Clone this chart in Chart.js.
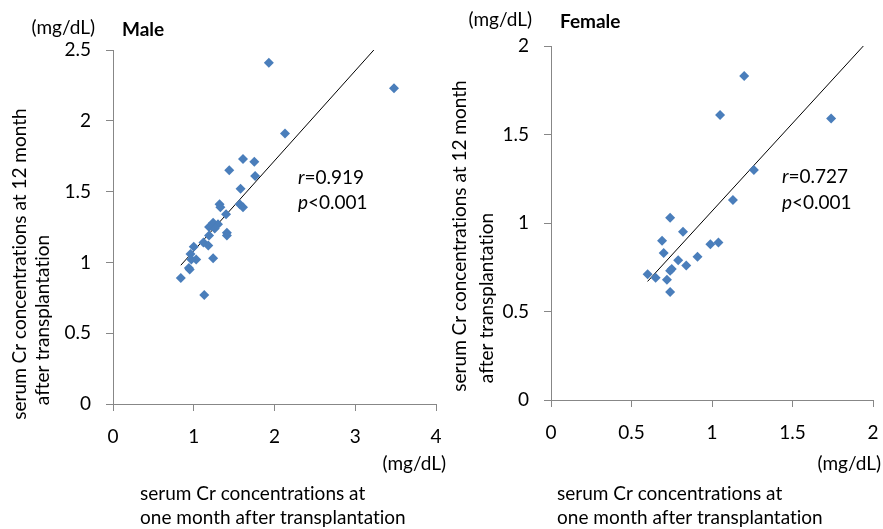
<!DOCTYPE html>
<html>
<head>
<meta charset="utf-8">
<script src="https://cdn.jsdelivr.net/npm/chart.js@4.4.1/dist/chart.umd.min.js"></script>
<style>
  html, body { margin: 0; padding: 0; background: #fff; }
  #page { position: relative; width: 883px; height: 529px; overflow: hidden; }
  .box { position: absolute; top: 0; height: 529px; }
</style>
</head>
<body>
<div id="page">
  <div class="box" style="left:0;width:450px"><canvas id="maleChart"></canvas></div>
  <div class="box" style="left:440px;width:443px"><canvas id="femaleChart"></canvas></div>
</div>
<script>
// Male: serum Cr at 1 month (x) vs 12 months (y)
const maleX = [1.93, 3.48, 2.13, 1.61, 1.75, 1.44, 1.76, 1.58, 1.32, 1.33, 1.57, 1.61, 1.40, 1.24, 1.30, 1.19, 1.26, 1.41, 1.41, 1.19, 1.12, 1.18, 1.00, 0.96, 1.03, 0.97, 1.24, 0.94, 0.95, 0.84, 1.13];
const maleY = [2.41, 2.23, 1.91, 1.73, 1.71, 1.65, 1.61, 1.52, 1.41, 1.39, 1.41, 1.39, 1.34, 1.28, 1.27, 1.25, 1.24, 1.21, 1.19, 1.19, 1.14, 1.12, 1.11, 1.06, 1.02, 1.02, 1.03, 0.96, 0.95, 0.89, 0.77];
const maleTrendX = [0.84, 3.23];
const maleTrendY = [0.98, 2.5];

// Female
const femaleX = [1.20, 1.05, 1.74, 1.26, 1.13, 0.74, 0.82, 0.69, 0.99, 1.04, 0.70, 0.91, 0.79, 0.84, 0.75, 0.74, 0.60, 0.65, 0.72, 0.74];
const femaleY = [1.83, 1.61, 1.59, 1.30, 1.13, 1.03, 0.95, 0.90, 0.88, 0.89, 0.83, 0.81, 0.79, 0.76, 0.74, 0.73, 0.71, 0.69, 0.68, 0.61];
const femaleTrendX = [0.60, 1.94];
const femaleTrendY = [0.67, 2.0];

// Axis ticks
const maleXTicks = [0, 1, 2, 3, 4];
const maleYTicks = [0, 0.5, 1, 1.5, 2, 2.5];
const femaleXTicks = [0, 0.5, 1, 1.5, 2];
const femaleYTicks = [0, 0.5, 1, 1.5, 2];

const FONT = 'Lato, "Liberation Sans", sans-serif';
const AXIS_GRAY = '#878787';
const MARKER_BLUE = '#4a7ebb';

function toPoints(xs, ys) {
    return xs.map((x, i) => ({ x: x, y: ys[i] }));
}

// draws the loose labels around each panel (units, titles, r / p)
const extraText = {
    id: 'extraText',
    afterDraw(chart, args, opts) {
        const ctx = chart.ctx;
        const dx = opts.offsetX || 0;
        ctx.save();
        ctx.fillStyle = '#000';
        ctx.textBaseline = 'middle';
        ctx.textRendering = 'optimizeSpeed';   // no "ti" ligature
        (opts.items || []).forEach(t => {
            ctx.save();
            ctx.font = (t.bold ? 'bold ' : '') + t.size + 'px ' + FONT;
            ctx.translate(t.x - dx, t.y);
            if (t.rotate) ctx.rotate(t.rotate);
            ctx.textAlign = t.align || 'left';
            if (t.parts) {
                // italic letter + normal rest
                let x = 0;
                t.parts.forEach(p => {
                    ctx.font = (p.italic ? 'italic ' : '') + t.size + 'px ' + FONT;
                    ctx.textAlign = 'left';
                    ctx.fillText(p.text, x, 0);
                    x += ctx.measureText(p.text).width;
                });
            } else {
                ctx.fillText(t.text, 0, 0);
            }
            ctx.restore();
        });
        ctx.restore();
    }
};

function makeChart(id, cfg) {
    const ctx = document.getElementById(id).getContext('2d');
    return new Chart(ctx, {
        type: 'scatter',
        data: {
            datasets: [{
                data: toPoints(cfg.xs, cfg.ys),
                pointStyle: 'rectRot',
                pointRadius: 5,
                backgroundColor: MARKER_BLUE,
                borderColor: MARKER_BLUE,
                borderWidth: 0
            }, {
                data: toPoints(cfg.trendX, cfg.trendY),
                showLine: true,
                pointRadius: 0,
                borderColor: '#000',
                borderWidth: 1,
                fill: false
            }]
        },
        options: {
            responsive: true,
            maintainAspectRatio: false,
            animation: false,
            layout: { padding: cfg.padding },
            plugins: {
                legend: { display: false },
                tooltip: { enabled: false },
                extraText: { offsetX: cfg.offsetX, items: cfg.texts }
            },
            scales: {
                x: {
                    type: 'linear',
                    min: cfg.xTicks[0],
                    max: cfg.xTicks[cfg.xTicks.length - 1],
                    afterBuildTicks: s => { s.ticks = cfg.xTicks.map(v => ({ value: v })); },
                    afterFit: s => { s.height = 40; s.paddingLeft = 0; s.paddingRight = 0; },
                    ticks: { color: '#000', padding: 14, font: { family: FONT, size: 19 }, maxRotation: 0,
                             callback: v => String(v) },
                    grid: { drawOnChartArea: false, drawTicks: true, tickLength: 7, color: AXIS_GRAY },
                    border: { color: AXIS_GRAY, width: 1 }
                },
                y: {
                    type: 'linear',
                    min: cfg.yTicks[0],
                    max: cfg.yTicks[cfg.yTicks.length - 1],
                    afterBuildTicks: s => { s.ticks = cfg.yTicks.map(v => ({ value: v })); },
                    afterFit: s => { s.width = cfg.yWidth; s.paddingTop = 0; s.paddingBottom = 0; },
                    ticks: { color: '#000', padding: 15, font: { family: FONT, size: 19 },
                             callback: v => String(v) },
                    grid: { drawOnChartArea: false, drawTicks: true, tickLength: 7, color: AXIS_GRAY },
                    border: { color: AXIS_GRAY, width: 1 }
                }
            }
        },
        plugins: [extraText]
    });
}

const ROT = -Math.PI / 2;

makeChart('maleChart', {
    xs: maleX, ys: maleY, trendX: maleTrendX, trendY: maleTrendY,
    xTicks: maleXTicks, yTicks: maleYTicks,
    yWidth: 113, offsetX: 0,
    padding: { left: 0, top: 50, right: 14, bottom: 85 },
    texts: [
        { text: '(mg/dL)', x: 95, y: 28, size: 19, align: 'right' },
        { text: 'Male', x: 122, y: 30, size: 19, bold: true },
        { parts: [{ text: 'r', italic: true }, { text: '=0.919' }], x: 298, y: 178, size: 19 },
        { parts: [{ text: 'p', italic: true }, { text: '<0.001' }], x: 298, y: 203, size: 19 },
        { text: '(mg/dL)', x: 446, y: 464, size: 19, align: 'right' },
        { text: 'serum Cr concentrations at', x: 140, y: 494, size: 19 },
        { text: 'one month after transplantation', x: 140, y: 518, size: 19 },
        { text: 'serum Cr concentrations at 12 month', x: 20, y: 264, size: 19, align: 'center', rotate: ROT },
        { text: 'after transplantation', x: 43, y: 320, size: 19, align: 'center', rotate: ROT }
    ]
});

makeChart('femaleChart', {
    xs: femaleX, ys: femaleY, trendX: femaleTrendX, trendY: femaleTrendY,
    xTicks: femaleXTicks, yTicks: femaleYTicks,
    yWidth: 111, offsetX: 440,
    padding: { left: 0, top: 46, right: 10, bottom: 89 },
    texts: [
        { text: '(mg/dL)', x: 532, y: 20, size: 19, align: 'right' },
        { text: 'Female', x: 560, y: 22, size: 19, bold: true },
        { parts: [{ text: 'r', italic: true }, { text: '=0.727' }], x: 782, y: 177, size: 19 },
        { parts: [{ text: 'p', italic: true }, { text: '<0.001' }], x: 782, y: 203, size: 19 },
        { text: '(mg/dL)', x: 881, y: 464, size: 19, align: 'right' },
        { text: 'serum Cr concentrations at', x: 557, y: 494, size: 19 },
        { text: 'one month after transplantation', x: 557, y: 518, size: 19 },
        { text: 'serum Cr concentrations at 12 month', x: 460, y: 236, size: 19, align: 'center', rotate: ROT },
        { text: 'after transplantation', x: 487, y: 298, size: 19, align: 'center', rotate: ROT }
    ]
});
</script>
</body>
</html>
